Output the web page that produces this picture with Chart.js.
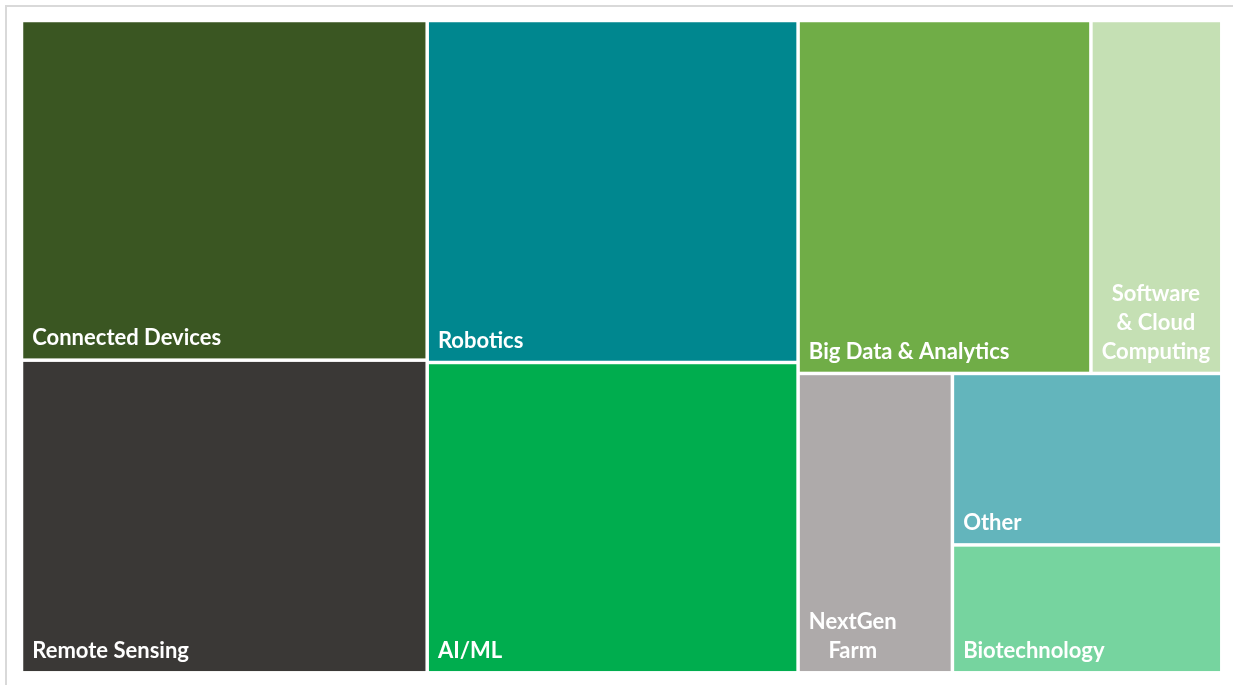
<!DOCTYPE html>
<html>
<head>
<meta charset="utf-8">
<script src="https://cdn.jsdelivr.net/npm/chart.js@4.4.0/dist/chart.umd.min.js"></script>
<style>
  body { margin: 0; background: #ffffff; }
  #wrap { width: 1233px; height: 685px; }
</style>
</head>
<body>
<div id="wrap"><canvas id="treemap" width="1233" height="685"></canvas></div>
<script>
// data (share of total, %)
var categories = ["Connected Devices", "Remote Sensing", "Robotics", "AI/ML", "Big Data & Analytics",
                  "Software & Cloud Computing", "NextGen Farm", "Other", "Biotechnology"];
var shares = [17.6, 16.2, 16.2, 14.7, 13.2, 5.9, 5.9, 5.9, 4.4];
var colors = ["#3a5622", "#3a3836", "#00878f", "#00ad4e", "#70ad47",
              "#c5e0b4", "#aeaaaa", "#63b5bc", "#76d49f"];

// row score: area weighted aspect ratio of the cells in a strip
function stripScore(row, side) {
    var s = 0;
    row.forEach(function(it) { s += it.a; });
    var t = s / side, score = 0;
    row.forEach(function(it) {
        var l = it.a / t;
        score += it.a * Math.max(l / t, t / l);
    });
    return score / s;
}

// squarified layout in a W x H box, returns rects by original index
function layoutTreemap(values, W, H) {
    var total = 0;
    values.forEach(function(v) { total += v; });
    var items = values.map(function(v, i) { return { i: i, a: v * W * H / total }; });
    items.sort(function(a, b) { return b.a - a.a; });

    var rects = [];
    var x = 0, y = 0, w = W, h = H, k = 0;
    while (k < items.length) {
        var side = Math.min(w, h);
        var row = [items[k]];
        var best = stripScore(row, side);
        var j = k + 1;
        while (j < items.length) {
            var cand = row.concat([items[j]]);
            var sc = stripScore(cand, side);
            if (sc > best) break;
            row = cand; best = sc; j++;
        }
        var rowArea = 0;
        row.forEach(function(it) { rowArea += it.a; });
        var t = rowArea / side;
        if (w >= h) {
            // strip down the left side
            var yy = y;
            row.forEach(function(it) {
                var hh = it.a / t;
                rects[it.i] = { x0: x, y0: yy, x1: x + t, y1: yy + hh };
                yy += hh;
            });
            x += t; w -= t;
        } else {
            // strip along the top
            var xx = x;
            row.forEach(function(it) {
                var ww = it.a / t;
                rects[it.i] = { x0: xx, y0: y, x1: xx + ww, y1: y + t };
                xx += ww;
            });
            y += t; h -= t;
        }
        k = j;
    }
    return rects;
}

// greedy wrap, a lone "&" goes down with the next word
function wrapText(ctx, text, maxW) {
    var words = text.split(" "), lines = [], cur = [];
    words.forEach(function(wd) {
        var test = cur.concat([wd]).join(" ");
        if (cur.length && ctx.measureText(test).width > maxW) {
            var carry = [];
            if (cur.length > 1 && cur[cur.length - 1].length == 1) carry = [cur.pop()];
            lines.push(cur.join(" "));
            cur = carry.concat([wd]);
        } else {
            cur.push(wd);
        }
    });
    if (cur.length) lines.push(cur.join(" "));
    return lines;
}

// light frame round the picture
var framePlugin = {
    id: 'frame',
    beforeDraw: function(chart) {
        var ctx = chart.ctx;
        ctx.save();
        ctx.strokeStyle = "#d9d9d9";
        ctx.lineWidth = 2;
        ctx.strokeRect(6, 6, 1300, 800);
        ctx.restore();
    }
};

// draws the cells through the chart's x / y scales
var treemapPlugin = {
    id: 'treemapCells',
    beforeDatasetsDraw: function(chart) {
        var ctx = chart.ctx;
        var area = chart.chartArea;
        var xs = chart.scales.x, ys = chart.scales.y;
        var W = area.right - area.left, H = area.bottom - area.top;
        var rects = layoutTreemap(shares, W, H);
        var gap = 1.75, pad = 9, lineH = 29;

        ctx.save();
        rects.forEach(function(r, i) {
            var left = xs.getPixelForValue(r.x0 / W) + gap;
            var right = xs.getPixelForValue(r.x1 / W) - gap;
            var top = ys.getPixelForValue(r.y0 / H) + gap;
            var bottom = ys.getPixelForValue(r.y1 / H) - gap;
            ctx.fillStyle = colors[i];
            ctx.fillRect(left, top, right - left, bottom - top);

            ctx.font = "bold 22px Lato";
            ctx.fillStyle = "#ffffff";
            ctx.textBaseline = "alphabetic";
            ctx.textAlign = "center";
            var lines = wrapText(ctx, categories[i], right - left - 2 * pad);
            var blockW = 0;
            lines.forEach(function(l) { blockW = Math.max(blockW, ctx.measureText(l).width); });
            var cx = left + pad + blockW / 2;
            var base = bottom - 13 - (lines.length - 1) * lineH;
            lines.forEach(function(l, n) {
                ctx.fillText(l, cx, base + n * lineH);
            });
        });
        ctx.restore();
    }
};

var ctx = document.getElementById("treemap").getContext('2d');
var chart = new Chart(ctx, {
    type: 'scatter',
    data: {
        datasets: [{ label: "Share", data: [] }]
    },
    options: {
        responsive: false,
        maintainAspectRatio: false,
        animation: false,
        layout: {
            padding: { left: 21.5, right: 11.2, top: 20.5, bottom: 12.2 }
        },
        scales: {
            x: { type: 'linear', min: 0, max: 1, display: false },
            y: { type: 'linear', min: 0, max: 1, reverse: true, display: false }
        },
        plugins: {
            legend: { display: false },
            tooltip: { enabled: false }
        }
    },
    plugins: [framePlugin, treemapPlugin]
});
</script>
</body>
</html>
